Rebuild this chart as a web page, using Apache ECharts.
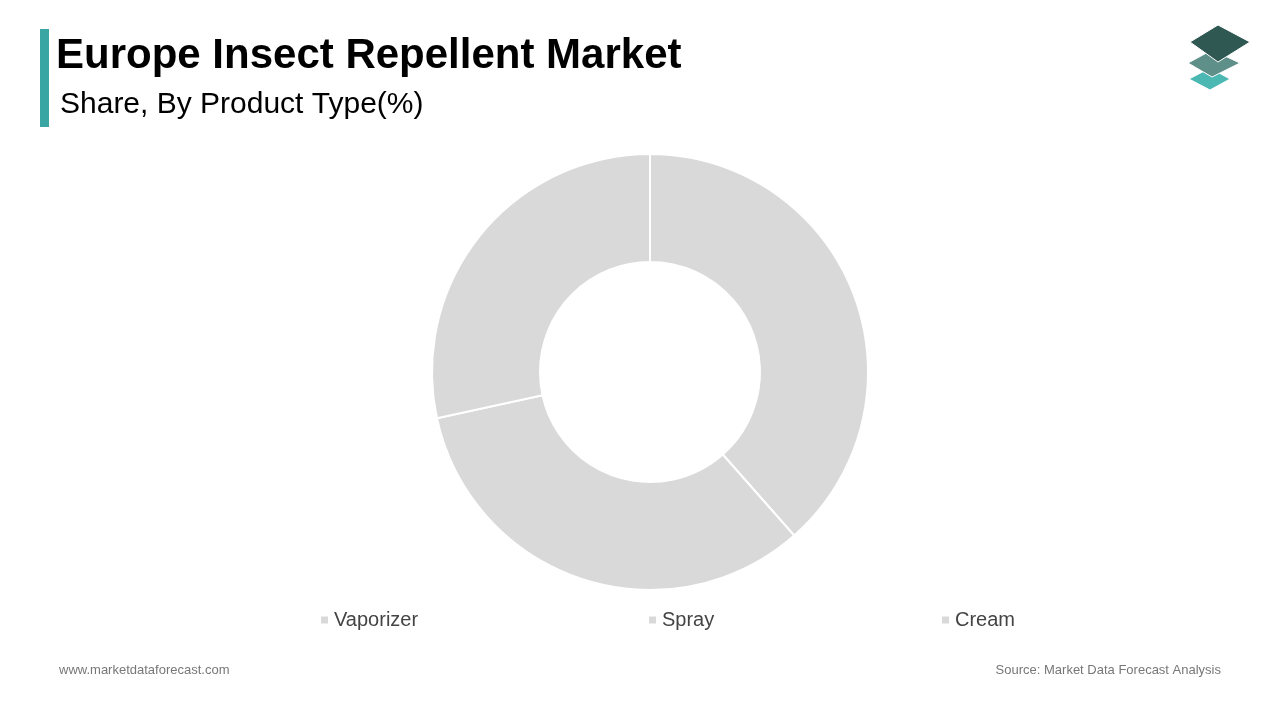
<!DOCTYPE html>
<html><head><meta charset="utf-8">
<script src="https://cdn.jsdelivr.net/npm/echarts@6/dist/echarts.min.js"></script>
<style>html,body{margin:0;padding:0;background:#fff}#c{width:1280px;height:720px}</style>
</head><body><div id="c"></div>
<script>
const categories = ['Vaporizer', 'Spray', 'Cream'];
const shares = [38.5, 33.1, 28.4];
const legendLefts = [314, 642, 935];
const chart = echarts.init(document.getElementById('c'));
chart.setOption({
  backgroundColor: '#fff',
  animation: false,
  title: [
    {text: 'Europe Insect Repellent Market', left: 51, top: 30, textStyle: {fontFamily: 'Liberation Sans', fontWeight: 'bold', fontSize: 42, color: '#000'}},
    {text: 'Share, By Product Type(%)', left: 55, top: 85, textStyle: {fontFamily: 'Liberation Sans', fontWeight: 'normal', fontSize: 30, color: '#000'}},
    {text: 'www.marketdataforecast.com', left: 54, top: 659, textStyle: {fontFamily: 'Liberation Sans', fontWeight: 'normal', fontSize: 13, color: '#777'}},
    {text: 'Source: Market Data Forecast Analysis', right: 54, top: 659, textStyle: {fontFamily: 'Liberation Sans', fontWeight: 'normal', fontSize: 13, color: '#777'}}
  ],
  legend: categories.map((c, i) => ({
    data: [c], left: legendLefts[i], top: 605, itemWidth: 9, itemHeight: 9, icon: 'rect',
    selectedMode: false,
    textStyle: {fontFamily: 'Liberation Sans', fontSize: 20, color: '#444'}
  })),
  graphic: [
    {type: 'rect', shape: {x: 40, y: 29, width: 9, height: 98}, style: {fill: '#3aa6a4'}},
    {type: 'polygon', shape: {points: [[1210, 68], [1230, 79], [1210, 90], [1189, 79]]}, style: {fill: '#4bb8b3', stroke: '#fff', lineWidth: 1}},
    {type: 'polygon', shape: {points: [[1212, 50], [1240, 63], [1212, 77], [1188, 63]]}, style: {fill: '#5e8f89', stroke: '#fff', lineWidth: 1}},
    {type: 'polygon', shape: {points: [[1218, 25], [1250, 42], [1218, 62], [1190, 42]]}, style: {fill: '#2f5853', stroke: '#fff', lineWidth: 1}}
  ],
  series: [{
    type: 'pie', center: [650, 372], radius: [110, 218], startAngle: 90, clockwise: true,
    label: {show: false}, labelLine: {show: false},
    itemStyle: {color: '#d9d9d9', borderColor: '#fff', borderWidth: 2},
    emphasis: {disabled: true},
    data: categories.map((c, i) => ({name: c, value: shares[i]}))
  }]
});
</script></body></html>
